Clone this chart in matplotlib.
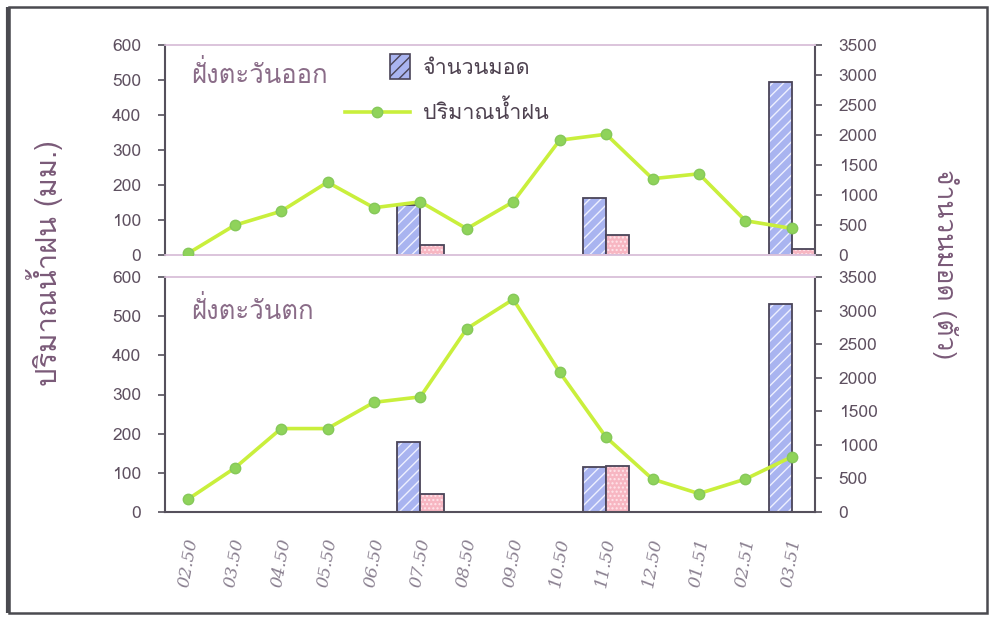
import numpy as np
import matplotlib
matplotlib.use('Agg')
import matplotlib.pyplot as plt
import matplotlib.patches as mpatches
from matplotlib.lines import Line2D
from matplotlib.legend_handler import HandlerPatch

plt.rcParams['font.family'] = ['Loma', 'DejaVu Sans']

months = ['02.50', '03.50', '04.50', '05.50', '06.50', '07.50', '08.50',
          '09.50', '10.50', '11.50', '12.50', '01.51', '02.51', '03.51']

east_rain = [5, 85, 125, 208, 135, 152, 75, 152, 328, 345, 218, 232, 98, 76]
east_moth = [0, 0, 0, 0, 0, 840, 0, 0, 0, 950, 0, 0, 0, 2890]
east_moth2 = [0, 0, 0, 0, 0, 160, 0, 0, 0, 330, 0, 0, 0, 100]

west_rain = [33, 112, 213, 213, 280, 294, 468, 543, 357, 191, 84, 47, 84, 141]
west_moth = [0, 0, 0, 0, 0, 1040, 0, 0, 0, 665, 0, 0, 0, 3100]
west_moth2 = [0, 0, 0, 0, 0, 275, 0, 0, 0, 690, 0, 0, 0, 0]

txt_col = '#5e5060'
lbl_col = '#7a5a78'
dark = '#55505c'
light = '#dcc4dc'
blue, pink = '#a9b4f0', '#f7b6c2'
lime, dot = '#c9ef3c', '#8fd35a'

fig = plt.figure(figsize=(9.92, 6.19), dpi=100)
fig.patches.append(mpatches.Rectangle((0.009, 0.01), 0.986, 0.978, transform=fig.transFigure,
                                      fill=False, edgecolor='#4a4a50', lw=1.8))
fig.patches.append(mpatches.Rectangle((0.008, 0.01), 0.0, 0.978, transform=fig.transFigure,
                                      fill=False, edgecolor='#4a4a50', lw=3))

x = np.arange(len(months))


def panel(rect, rain, m1, m2, title, bottom):
    ax = fig.add_axes(rect)
    ax2 = ax.twinx()
    ax.set_zorder(ax2.get_zorder() + 1)
    ax.patch.set_visible(False)

    # bars (right axis): hatch drawn first, dark outline on top
    for vals, off, fc, hc, hatch in [(m1, -0.25, blue, '#eef0ff', '///'), (m2, 0.25, pink, '#ffe4ea', '....')]:
        idx = [i for i, v in enumerate(vals) if v > 0]
        h = [vals[i] for i in idx]
        p = x[idx] + off
        ax2.bar(p, h, 0.5, color=fc, edgecolor=hc, hatch=hatch, lw=0)
        ax2.bar(p, h, 0.5, fill=False, edgecolor='#4a4458', lw=1.3)

    ax.plot(x, rain, color=lime, lw=2.6, marker='o', ms=7.5, mfc=dot, mec='#86c85a', zorder=3)

    ax.set_xlim(-0.5, 13.5)
    ax.set_ylim(0, 600)
    ax.set_yticks(range(0, 601, 100))
    ax2.set_ylim(0, 3500)
    ax2.set_yticks(range(0, 3501, 500))
    for a in (ax, ax2):
        a.tick_params(axis='y', colors=dark, labelcolor=txt_col, labelsize=12.5, length=5, width=1.2, pad=12)
        for s in a.spines.values():
            s.set_color(light)
            s.set_linewidth(1.2)
        a.spines['left'].set_color(dark)
        a.spines['right'].set_color(dark)
        a.spines['left'].set_linewidth(1.5)
        a.spines['right'].set_linewidth(1.5)
    ax.spines['right'].set_visible(False)
    ax2.spines['left'].set_visible(False)

    if bottom:
        ax.spines['bottom'].set_color(dark)
        ax.spines['bottom'].set_linewidth(1.5)
        ax.set_xticks(np.arange(-0.5, 14, 1))
        ax.set_xticklabels([])
        ax.tick_params(axis='x', which='major', colors=dark, length=8, width=1.3)
        ax.set_xticks(x, minor=True)
        ax.set_xticklabels(months, minor=True, rotation=80, fontsize=12.5, color='#8a8090',
                           fontstyle='italic', family='DejaVu Serif')
        ax.tick_params(axis='x', which='minor', length=0, pad=18)
    else:
        ax.set_xticks([])
    ax2.set_xticks([])

    ax.text(0.04, 0.86, title, transform=ax.transAxes, fontsize=18.5, color='#8a6c88', va='center')
    return ax


top = panel([165 / 992, 1 - 255 / 619, 650 / 992, 210 / 619], east_rain, east_moth, east_moth2,
            'ฝั่งตะวันออก', False)
panel([165 / 992, 1 - 512 / 619, 650 / 992, 235 / 619], west_rain, west_moth, west_moth2,
      'ฝั่งตะวันตก', True)


def narrow_rect(legend, orig_handle, xdescent, ydescent, width, height, fontsize):
    return mpatches.Rectangle((-xdescent + width * 0.7, -ydescent - 0.3 * height), width * 0.3, height * 1.6)


h_bar = mpatches.Rectangle((0, 0), 1, 1, facecolor=blue, edgecolor='#4a4458', hatch='///', lw=1.2)
h_line = Line2D([], [], color=lime, lw=2.6, marker='o', ms=7.5, mfc=dot, mec='#86c85a')
top.legend([h_bar, h_line], ['จำนวนมอด', 'ปริมาณน้ำฝน'], loc='upper left',
           bbox_to_anchor=(345 / 992, 1 - 58 / 619), bbox_transform=fig.transFigure,
           frameon=False, fontsize=15.5, labelcolor='#4e4250', handlelength=3.0, handletextpad=0.6,
           labelspacing=1.0, borderpad=0, borderaxespad=0,
           handler_map={mpatches.Rectangle: HandlerPatch(patch_func=narrow_rect)})

fig.text(45 / 992, 1 - 263 / 619, 'ปริมาณน้ำฝน (มม.)', rotation=90, fontsize=21, color=lbl_col,
         ha='center', va='center')
fig.text(945 / 992, 1 - 264 / 619, 'จำนวนมอด (ตัว)', rotation=270, fontsize=19, color=lbl_col,
         ha='center', va='center')

fig.savefig('out.png', dpi=100)
